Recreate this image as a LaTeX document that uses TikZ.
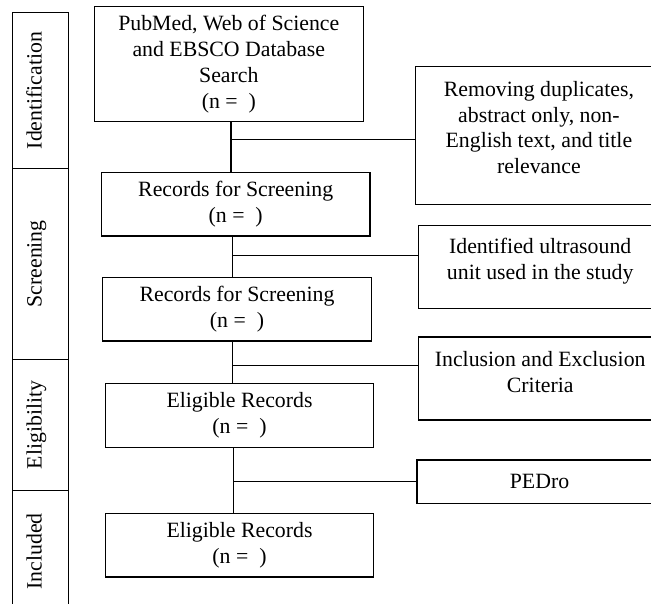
\documentclass[tikz,border=0pt]{standalone}
\usepackage{fontspec}
\setmainfont{Liberation Serif}
\begin{document}
\begin{tikzpicture}[x=0.5pt,y=-0.5pt,
  every node/.style={font=\fontsize{10.9}{12.9}\selectfont, text=black},
  box/.style={draw, line width=0.6pt, inner sep=0pt, align=center},
  lane/.style={draw, line width=0.6pt, minimum width=28pt, inner sep=0pt},
  lanelabel/.style={rotate=90, anchor=base, inner sep=0pt},
  rtext/.style={anchor=north, inner sep=0pt, align=center},
  link/.style={line width=0.6pt}]
\useasboundingbox (0,0) rectangle (651,603);
\clip (0,0) rectangle (651,603);

% phase lanes
\node[lane, minimum height=77.8pt] (ident) at (40.7,90.5) {};
\node[lane, minimum height=95.5pt] (screen) at (40.7,263.8) {};
\node[lane, minimum height=65.7pt] (elig) at (40.7,425) {};
\node[lane, minimum height=60.65pt] (incl) at (40.7,551.35) {};
\node[lanelabel] (identl) at (ident.center -| 41.5,0) {Identification};
\node[lanelabel] (screenl) at (screen.center -| 41.5,0) {Screening};
\node[lanelabel] (eligl) at (elig.center -| 41.5,0) {Eligibility};
\node[lanelabel] (incll) at (incl.center -| 41.5,0) {Included};

% main boxes
\node[box, minimum width=134.5pt, minimum height=57.5pt] (b1) at (228.8,64.2)
  {PubMed, Web of Science\\and EBSCO Database\\Search\\(n =\ \ )};
\node[box, minimum width=134.35pt, minimum height=31.65pt] (b2) at (235.7,204.35)
  {Records for Screening\\(n =\ \ )};
\node[box, minimum width=134.3pt, minimum height=31.85pt] (b3) at (237,309.2)
  {Records for Screening\\(n =\ \ )};
\node[box, minimum width=134.2pt, minimum height=32.2pt] (b4) at (239.5,415.5)
  {Eligible Records\\(n =\ \ )};
\node[box, minimum width=134.2pt, minimum height=31.85pt] (b5) at (239.5,545.2)
  {Eligible Records\\(n =\ \ )};

% side boxes
\node[box, minimum width=123.15pt, minimum height=68.9pt] (r1) at (538.9,135.6) {};
\node[rtext] (t1) at ([yshift=-7.3pt]r1.north)
  {Removing duplicates,\\abstract only, non-\\English text, and title\\relevance};
\node[box, minimum width=121.85pt, minimum height=41.5pt] (r2) at (540.2,266.8) {};
\node[rtext] (t2) at ([yshift=-6.5pt]r2.north)
  {Identified ultrasound\\unit used in the study};
\node[box, minimum width=121.85pt, minimum height=41.5pt] (r3) at (540.2,378.5) {};
\node[rtext] (t3) at ([yshift=-7.2pt]r3.north)
  {Inclusion and Exclusion\\Criteria};
\node[box, minimum width=122.5pt, minimum height=21.85pt] (r4) at (539.5,481.9) {PEDro};

% connectors
\coordinate (j1) at (231,139.3);
\coordinate (j2) at (232.3,255.5);
\coordinate (j3) at (232.3,365.7);
\coordinate (j4) at (233.3,481.3);
\draw[link] (b1.south -| j1) -- (b2.north -| j1);
\draw[link] (j1) -- (j1 -| r1.west);
\draw[link] (b2.south -| j2) -- (b3.north -| j2);
\draw[link] (j2) -- (j2 -| r2.west);
\draw[link] (b3.south -| j3) -- (b4.north -| j3);
\draw[link] (j3) -- (j3 -| r3.west);
\draw[link] (b4.south -| j4) -- (b5.north -| j4);
\draw[link] (j4) -- (j4 -| r4.west);
\end{tikzpicture}
\end{document}
